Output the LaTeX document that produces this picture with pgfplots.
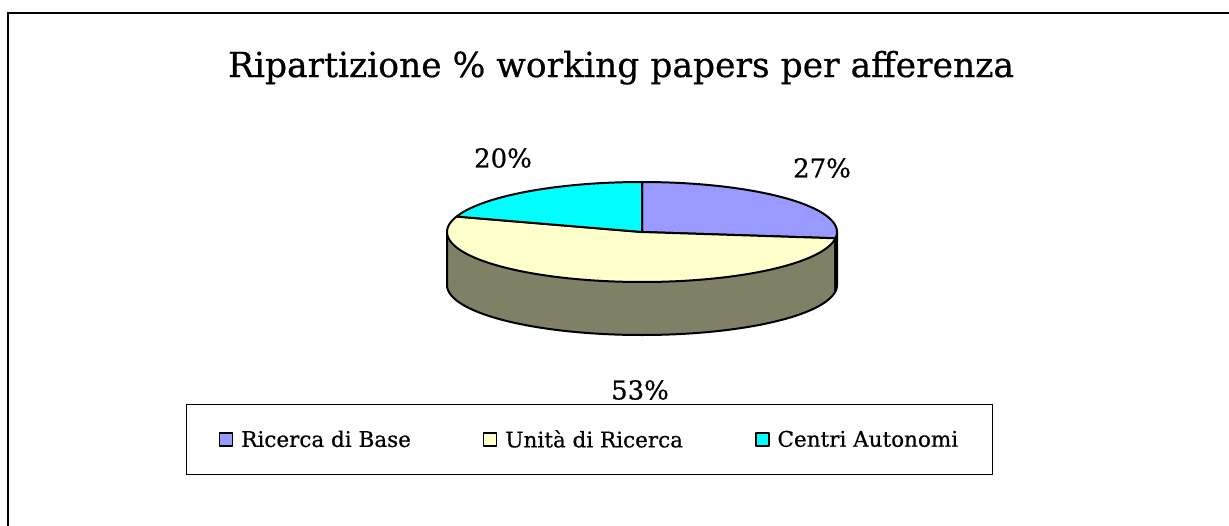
\documentclass[border=0pt]{standalone}
\usepackage{pgfplots}
\pgfplotsset{compat=1.18}
\usepackage{pgfplotstable}
\usepackage{fontspec}
\setmainfont{DejaVu Serif}[FakeBold=0.6]
\definecolor{cBase}{HTML}{9999FF}
\definecolor{cUnita}{HTML}{FFFFCC}
\definecolor{cCentri}{HTML}{00FFFF}
\definecolor{sUnita}{HTML}{808066}
\definecolor{sBase}{HTML}{4D4D80}

\pgfplotstableread{
value
27
53
20
}\piedata

\begin{document}
\begin{tikzpicture}
\pgfplotstablegetelem{0}{value}\of\piedata \let\vA\pgfplotsretval
\pgfplotstablegetelem{1}{value}\of\piedata \let\vB\pgfplotsretval
\pgfplotstablegetelem{2}{value}\of\piedata \let\vC\pgfplotsretval
\pgfmathsetmacro\aZ{90}
\pgfmathsetmacro\aA{90-3.6*\vA}
\pgfmathsetmacro\aB{\aA-3.6*\vB}
\pgfmathsetmacro\aC{\aB-3.6*\vC}
\def\cx{642}\def\cy{232}\def\rx{195}\def\ry{50}\def\dep{53}
\pgfmathsetmacro\pAx{\cx+\rx*cos(\aA)}
\pgfmathsetmacro\pAy{\cy-\ry*sin(\aA)}
\pgfmathsetmacro\by{\cy+\dep}
\pgfmathsetmacro\lx{\cx-\rx}
\pgfmathsetmacro\rxx{\cx+\rx}
\begin{axis}[
  name=ax,
  width=1229pt, height=525pt, scale only axis,
  xmin=0, xmax=1229, ymin=0, ymax=525, y dir=reverse,
  hide axis, clip=false,
  legend columns=3,
  legend style={at={(axis cs:589.5,439.5)}, anchor=center, draw=black, line width=1pt,
    font=\fontsize{21.5}{25}\selectfont, inner xsep=32pt, inner ysep=24pt,
    /tikz/every even column/.append style={column sep=70pt},
    /tikz/every odd column/.append style={column sep=6pt}},
  legend image code/.code={\draw[#1, draw=black, line width=1.5pt] (0pt,-6.5pt) rectangle (13pt,6.5pt);},
]
% frame
\draw[line width=2pt] (8,540) -- (8,13) -- (1240,13);
% sides
\addplot[forget plot, fill=sUnita, draw=black, line width=2pt, line join=round, domain=-180:\aA, samples=120, variable=\t]
  ({\cx+\rx*cos(\t)},{\by-\ry*sin(\t)}) -- (\pAx,\pAy) -- (\lx,\cy) -- cycle;
\addplot[forget plot, fill=sBase, draw=black, line width=2pt, line join=round, domain=\aA:0, samples=10, variable=\t]
  ({\cx+\rx*cos(\t)},{\by-\ry*sin(\t)}) -- (\rxx,\cy) -- (\pAx,\pAy) -- cycle;
% top slices
\addplot[fill=cBase, draw=black, line width=2pt, line join=round, domain=\aA:\aZ, samples=80, variable=\t]
  ({\cx+\rx*cos(\t)},{\cy-\ry*sin(\t)}) -- (\cx,\cy) -- cycle;
\addlegendentry{Ricerca di Base}
\addplot[fill=cUnita, draw=black, line width=2pt, line join=round, domain=\aB:\aA, samples=120, variable=\t]
  ({\cx+\rx*cos(\t)},{\cy-\ry*sin(\t)}) -- (\cx,\cy) -- cycle;
\addlegendentry{Unità di Ricerca}
\addplot[fill=cCentri, draw=black, line width=2pt, line join=round, domain=\aC:\aB, samples=60, variable=\t]
  ({\cx+\rx*cos(\t)},{\cy-\ry*sin(\t)}) -- (\cx,\cy) -- cycle;
\addlegendentry{Centri Autonomi}
% labels
\node[anchor=base, font=\fontsize{34.5}{40}\selectfont] at (621,77) {Ripartizione \% working papers per afferenza};
\node[font=\fontsize{26}{30}\selectfont] at (822,168) {27\%};
\node[font=\fontsize{26}{30}\selectfont] at (503,158) {20\%};
\node[font=\fontsize{26}{30}\selectfont] at (640,390) {53\%};
\end{axis}
\pgfresetboundingbox
\useasboundingbox (ax.south west) rectangle (ax.north east);
\end{tikzpicture}
\end{document}
